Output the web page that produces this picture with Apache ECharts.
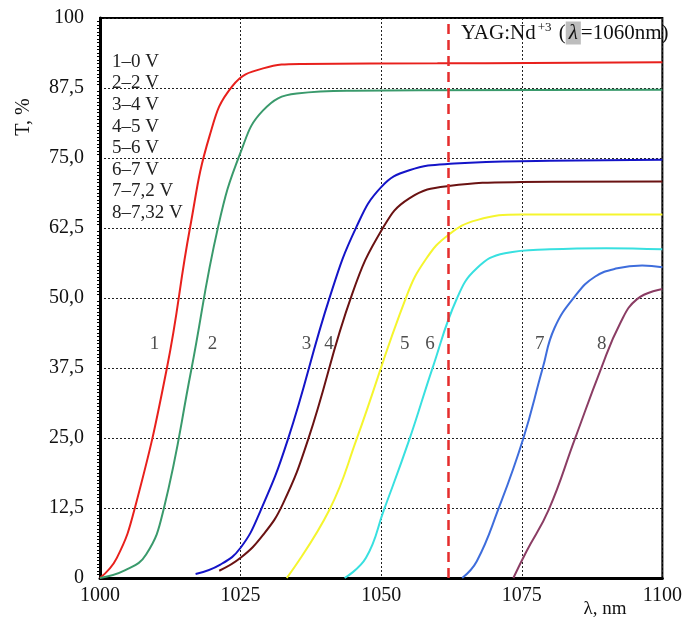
<!DOCTYPE html>
<html>
<head>
<meta charset="utf-8">
<script src="https://cdn.jsdelivr.net/npm/echarts@6/dist/echarts.min.js"></script>
<style>
html,body{margin:0;padding:0;background:#fff;}
#chart{width:685px;height:621px;}
</style>
</head>
<body>
<div id="chart"></div>
<script>
// ---- data ----
const c1x = [1000, 1003.0, 1006.2, 1011.9, 1016.0, 1019.5, 1023.5, 1029.0, 1036.0, 1060, 1100];
const c1y = [0, 3.6, 12.5, 37.5, 62.5, 79.0, 87.8, 91.0, 91.8, 91.9, 92.1];
const c2x = [1000, 1004.5, 1008.2, 1011.3, 1016.2, 1021.0, 1025.0, 1029.0, 1035.0, 1045.0, 1100];
const c2y = [0, 1.4, 4.2, 12.2, 37.0, 62.7, 76.0, 83.5, 86.5, 87.0, 87.2];
const c3x = [1017.0, 1021.4, 1025.0, 1028.5, 1033.4, 1040.9, 1045.6, 1050.0, 1055.0, 1063.0, 1080, 1100];
const c3y = [0.7, 2.4, 5.4, 11.9, 24.7, 50.3, 62.7, 69.8, 72.8, 74.0, 74.5, 74.7];
const c4x = [1021.2, 1025.0, 1029.0, 1032.5, 1037.0, 1044.8, 1050.3, 1055.0, 1062.0, 1075, 1100];
const c4y = [1.3, 3.6, 7.7, 13.2, 24.7, 50.6, 62.5, 67.8, 70.0, 70.7, 70.8];
const c5x = [1033.2, 1040.8, 1045.6, 1054.5, 1058.0, 1062.0, 1067.0, 1075, 1100];
const c5y = [0, 12.2, 24.7, 50.3, 57.0, 61.3, 63.9, 64.9, 64.9];
const c6x = [1043.5, 1047.3, 1050.5, 1055.0, 1059.1, 1063.5, 1067.0, 1072.0, 1080, 1090, 1100];
const c6y = [0, 3.6, 12.2, 24.7, 37.4, 50.0, 55.3, 58.0, 58.7, 58.9, 58.7];
const c7x = [1064.4, 1067.0, 1070.8, 1075.2, 1078.7, 1080.8, 1084.6, 1088.0, 1092.0, 1096.4, 1100];
const c7y = [0, 3.0, 12.2, 24.7, 37.4, 44.6, 50.5, 53.8, 55.3, 55.8, 55.5];
const c8x = [1073.5, 1075.8, 1079.8, 1084.4, 1089.1, 1092.5, 1095.5, 1100];
const c8y = [0, 4.7, 12.2, 24.7, 37.4, 45.5, 49.8, 51.6];

const curveColors = ['#e8201c', '#3a9a6c', '#1414c8', '#6a1212', '#f5f52e', '#38e0e0', '#3e6ddc', '#8b3d64'];

const curveNames = ['1', '2', '3', '4', '5', '6', '7', '8'];
const curveNameX = [1009.7, 1020.0, 1036.7, 1040.7, 1054.2, 1058.7, 1078.2, 1089.2];
const curveNameY = [41.8, 41.8, 41.8, 41.8, 41.8, 41.8, 41.8, 41.8];

const legendLines = ['1–0 V', '2–2 V', '3–4 V', '4–5 V', '5–6 V', '6–7 V', '7–7,2 V', '8–7,32 V'];

const yTickValues = [0, 12.5, 25, 37.5, 50, 62.5, 75, 87.5, 100];
const yTickLabels = ['0', '12,5', '25,0', '37,5', '50,0', '62,5', '75,0', '87,5', '100'];
const xTickLabels = ['1000', '1025', '1050', '1075', '1100'];

const laserLine = 1062;
const yAxisTitle = 'T, %';
const xAxisTitle = 'λ, nm';
const noteMain = 'YAG:Nd';
const noteSup = '+3';
const noteLambda = 'λ';
const noteTail = '=1060nm)';

// ---- chart ----
const FONT = '"Liberation Serif", "Times New Roman", serif';
const xs = [c1x, c2x, c3x, c4x, c5x, c6x, c7x, c8x];
const ys = [c1y, c2y, c3y, c4y, c5y, c6y, c7y, c8y];

const series = xs.map((xa, i) => ({
  type: 'line',
  name: curveNames[i],
  data: xa.map((x, j) => [x, ys[i][j]]),
  showSymbol: false,
  symbol: 'none',
  smooth: 0.45,
  lineStyle: { color: curveColors[i], width: 2 },
  z: 3,
  silent: true
}));

series[0].markLine = {
  silent: true,
  symbol: ['none', 'none'],
  label: { show: false },
  lineStyle: { color: '#e52d2d', type: [10, 6], width: 2.5 },
  data: [{ xAxis: laserLine }]
};

series.push({
  type: 'scatter',
  symbolSize: 0,
  data: curveNameX.map((x, i) => [x, curveNameY[i], curveNames[i]]),
  label: {
    show: true,
    position: 'inside',
    formatter: p => p.data[2],
    fontFamily: FONT,
    fontSize: 19,
    color: '#222'
  },
  silent: true,
  z: 4
});

const chart = echarts.init(document.getElementById('chart'));
chart.setOption({
  backgroundColor: '#fff',
  animation: false,
  grid: {
    left: 100, right: 18, top: 18, bottom: 43,
    show: true, borderColor: '#000', borderWidth: 2
  },
  xAxis: {
    type: 'value',
    min: 1000, max: 1100, interval: 25,
    axisLine: { show: true, onZero: false, lineStyle: { color: '#000', width: 3 } },
    axisTick: { show: false },
    axisLabel: {
      margin: 8,
      fontFamily: FONT, fontSize: 20, color: '#111',
      formatter: v => xTickLabels[Math.round((v - 1000) / 25)] || ''
    },
    splitLine: { show: true, lineStyle: { color: '#222', type: [2, 2], width: 1 } }
  },
  yAxis: {
    type: 'value',
    min: 0, max: 100, interval: 12.5,
    axisLine: { show: true, lineStyle: { color: '#000', width: 3 } },
    axisTick: { show: false },
    minorTick: { show: true, splitNumber: 20, length: 3, lineStyle: { color: '#000', width: 1 } },
    axisLabel: {
      margin: 16,
      fontFamily: FONT, fontSize: 20, color: '#111',
      formatter: v => {
        const k = yTickValues.indexOf(v);
        return k >= 0 ? yTickLabels[k] : '';
      }
    },
    splitLine: { show: true, lineStyle: { color: '#222', type: [2, 2], width: 1 } }
  },
  series: series,
  graphic: [
    {
      type: 'text', x: 24, y: 117, rotation: Math.PI / 2,
      style: { text: yAxisTitle, font: '20px ' + FONT, fill: '#111', textAlign: 'center', textVerticalAlign: 'middle' }
    },
    {
      type: 'text', x: 605, y: 609,
      style: { text: xAxisTitle, font: '19px ' + FONT, fill: '#111', textAlign: 'center', textVerticalAlign: 'middle' }
    },
    {
      type: 'text', left: 112, top: 51,
      style: { text: legendLines.join('\n'), font: '19px ' + FONT, fill: '#222', lineHeight: 21.6 }
    },
    {
      type: 'text', left: 461, top: 21, z: 10,
      style: {
        text: '{a|' + noteMain + '}{s|' + noteSup + '}{a| (}{l|' + noteLambda + '}{a|' + noteTail + '}',
        fill: '#111',
        rich: {
          a: { fontFamily: FONT, fontSize: 21, fill: '#111', lineHeight: 24 },
          s: { fontFamily: FONT, fontSize: 13, fill: '#111', verticalAlign: 'top', lineHeight: 24, padding: [0, 2, 8, 2] },
          l: { fontFamily: FONT, fontSize: 21, fontStyle: 'italic', fill: '#111', backgroundColor: '#bdbdbd', padding: [1, 3, 1, 3], lineHeight: 24 }
        }
      }
    }
  ]
});
</script>
</body>
</html>
